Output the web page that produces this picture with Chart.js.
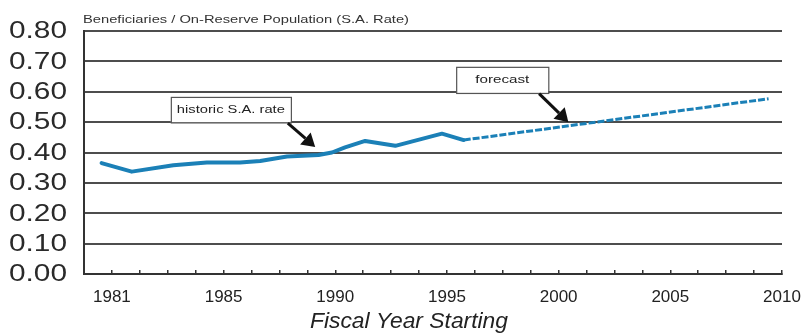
<!DOCTYPE html>
<html><head><meta charset="utf-8">
<script src="https://cdn.jsdelivr.net/npm/chart.js@4/dist/chart.umd.min.js"></script>
<style>html,body{margin:0;padding:0;background:#fff}#wrap{width:806px;height:336px}</style>
</head><body><div id="wrap"><canvas id="c" width="806" height="336"></canvas></div>
<script>
// x is measured in the chart's evenly spaced axis tick units (25 tick intervals)
const tickPositions = [1, 5, 9, 13, 17, 21, 25];
const tickLabels = ['1981', '1985', '1990', '1995', '2000', '2005', '2010'];
const yTickValues = [0, 0.1, 0.2, 0.3, 0.4, 0.5, 0.6, 0.7, 0.8];
const historicX = [0.63, 1.71, 3.20, 4.40, 5.59, 6.31, 7.27, 8.40, 8.88, 9.35, 10.07, 11.15, 12.82, 13.60];
const historicY = [0.365, 0.337, 0.358, 0.367, 0.367, 0.372, 0.387, 0.392, 0.400, 0.417, 0.438, 0.422, 0.462, 0.441];
const forecastX = [13.60, 24.52];
const forecastY = [0.441, 0.577];
const chartTitle = 'Beneficiaries / On-Reserve Population (S.A. Rate)';
const xTitle = 'Fiscal Year Starting';

const LINE = '#1b80b7';
const FONT = '"Liberation Sans", Arial, sans-serif';

function pts(xs, ys) { return xs.map((x, i) => ({x: x, y: ys[i]})); }

const notes = [
  {text: 'historic S.A. rate', x0: 3.11, x1: 7.41, y0: 0.583, y1: 0.499, tw: 108,
   ax0: 7.30, ay0: 0.497, ax1: 8.28, ay1: 0.418},
  {text: 'forecast', x0: 13.33, x1: 16.63, y0: 0.682, y1: 0.596, tw: 54,
   ax0: 16.30, ay0: 0.594, ax1: 17.35, ay1: 0.500}
];

function stretchedText(ctx, text, cx, cy, font, targetW, align) {
  ctx.save();
  ctx.font = font;
  const w = ctx.measureText(text).width;
  const s = targetW ? targetW / w : 1;
  ctx.translate(cx, cy);
  ctx.scale(s, 1);
  ctx.textAlign = align || 'center';
  ctx.textBaseline = 'middle';
  ctx.fillText(text, 0, 0);
  ctx.restore();
}

const annot = {
  id: 'annot',
  afterDraw(chart) {
    const ctx = chart.ctx, xs = chart.scales.x, ys = chart.scales.y;
    ctx.fillStyle = '#333';
    stretchedText(ctx, chartTitle, 83, 20, '10.5px ' + FONT, 326, 'left');
    ctx.fillStyle = '#222';
    stretchedText(ctx, xTitle, 409, 322, 'italic 22px ' + FONT, 198, 'center');
    ctx.fillStyle = '#2a2a2a';
    yTickValues.forEach(v => {
      stretchedText(ctx, v.toFixed(2), 67, ys.getPixelForValue(v) + 1, '23px ' + FONT, 58, 'right');
    });
    notes.forEach(n => {
      const l = xs.getPixelForValue(n.x0), r = xs.getPixelForValue(n.x1);
      const t = ys.getPixelForValue(n.y0), b = ys.getPixelForValue(n.y1);
      ctx.save();
      ctx.fillStyle = '#fff';
      ctx.fillRect(l, t, r - l, b - t);
      ctx.strokeStyle = '#555';
      ctx.lineWidth = 1.2;
      ctx.strokeRect(l + 0.5, t + 0.5, r - l, b - t);
      ctx.fillStyle = '#222';
      stretchedText(ctx, n.text, (l + r) / 2, (t + b) / 2, '11px ' + FONT, n.tw, 'center');
      const x0 = xs.getPixelForValue(n.ax0), y0 = ys.getPixelForValue(n.ay0);
      const x1 = xs.getPixelForValue(n.ax1), y1 = ys.getPixelForValue(n.ay1);
      const ang = Math.atan2(y1 - y0, x1 - x0);
      const hl = 13, hw = 8;
      const bx = x1 - hl * Math.cos(ang), by = y1 - hl * Math.sin(ang);
      ctx.strokeStyle = '#111';
      ctx.lineWidth = 3;
      ctx.beginPath(); ctx.moveTo(x0, y0); ctx.lineTo(bx, by); ctx.stroke();
      ctx.fillStyle = '#111';
      ctx.beginPath();
      ctx.moveTo(x1, y1);
      ctx.lineTo(bx + hw * Math.sin(ang), by - hw * Math.cos(ang));
      ctx.lineTo(bx - hw * Math.sin(ang), by + hw * Math.cos(ang));
      ctx.closePath(); ctx.fill();
      ctx.restore();
    });
  }
};

new Chart(document.getElementById('c'), {
  type: 'line',
  data: {
    datasets: [
      {label: 'historic', data: pts(historicX, historicY), borderColor: LINE, borderWidth: 4,
       pointRadius: 0, tension: 0, fill: false, borderJoinStyle: 'round', borderCapStyle: 'round'},
      {label: 'forecast', data: pts(forecastX, forecastY), borderColor: LINE, borderWidth: 3,
       borderDash: [7, 2], pointRadius: 0, tension: 0, fill: false}
    ]
  },
  options: {
    responsive: false,
    animation: false,
    events: [],
    layout: {padding: {left: 0, right: 24, top: 31, bottom: 0}},
    plugins: {legend: {display: false}, tooltip: {enabled: false}, title: {display: false}},
    scales: {
      x: {
        type: 'linear', min: 0, max: 25,
        afterFit(s) { s.height = 62; s.paddingLeft = 0; s.paddingRight = 0; },
        afterBuildTicks(s) { s.ticks = Array.from({length: 26}, (_, i) => ({value: i})); },
        ticks: {
          autoSkip: false, maxRotation: 0, padding: 17, color: '#222',
          font: {family: FONT, size: 17},
          callback(v) { const k = tickPositions.indexOf(v); return k >= 0 ? tickLabels[k] : ''; }
        },
        grid: {drawOnChartArea: false, drawTicks: true, tickLength: -4, color: '#333', lineWidth: 1.5},
        border: {display: true, color: '#333', width: 2},
        title: {display: false}
      },
      y: {
        min: 0, max: 0.8,
        afterFit(s) { s.width = 84; s.paddingTop = 0; s.paddingBottom = 0; },
        afterBuildTicks(s) { s.ticks = yTickValues.map(v => ({value: v})); },
        ticks: {display: false, autoSkip: false},
        grid: {color: '#4d4d4d', lineWidth: 2, drawTicks: false},
        border: {display: true, color: '#333', width: 2}
      }
    }
  },
  plugins: [annot]
});
</script></body></html>
